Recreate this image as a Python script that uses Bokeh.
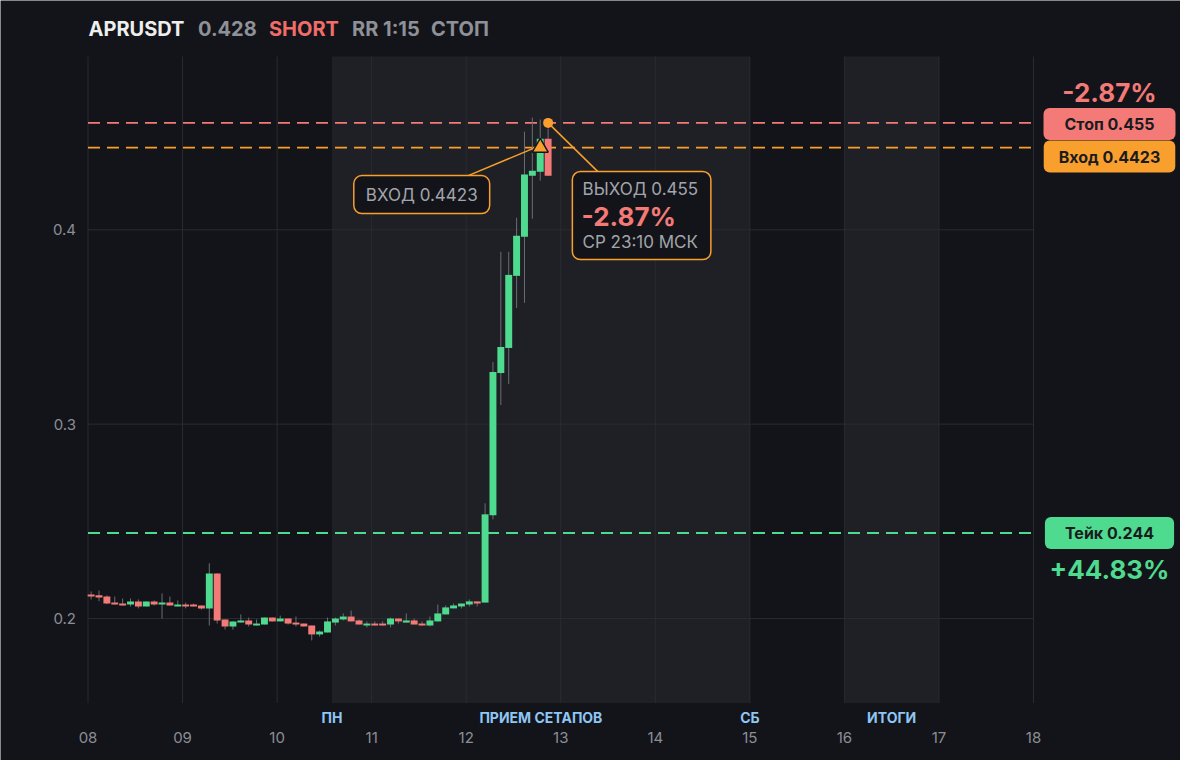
from bokeh.plotting import figure
from bokeh.models import Label, FixedTicker, ColumnDataSource
from bokeh.embed import file_html
from bokeh.resources import INLINE

# ---------------- data ----------------
symbol = "APRUSDT"
last_price = "0.428"
side = "SHORT"
risk_reward = "RR 1:15"
status = "СТОП"

first_candle_day = 8.033          # day-of-month of the first 2h candle
candle_step_days = 2 / 24

opens = [0.2124, 0.2119, 0.2113, 0.2082, 0.2077, 0.2072, 0.2088, 0.2062, 0.2088, 0.2072,
         0.2082, 0.2062, 0.2072, 0.2072, 0.2067, 0.2052, 0.2232, 0.1995, 0.1959, 0.1979,
         0.1990, 0.1964, 0.1969, 0.2005, 0.1985, 0.2000, 0.1979, 0.1974, 0.1964, 0.1918,
         0.1928, 0.1979, 0.1995, 0.2010, 0.1990, 0.1964, 0.1974, 0.1974, 0.1969, 0.2000,
         0.1979, 0.1990, 0.1974, 0.1964, 0.1985, 0.2021, 0.2052, 0.2062, 0.2072, 0.2088,
         0.2082, 0.2531, 0.3263, 0.3392, 0.3763, 0.3964, 0.4278, 0.4299, 0.4469]
highs = [0.2139, 0.2144, 0.2119, 0.2113, 0.2103, 0.2103, 0.2098, 0.2088, 0.2093, 0.2129,
         0.2113, 0.2093, 0.2082, 0.2077, 0.2067, 0.2284, 0.2232, 0.1995, 0.1985, 0.2021,
         0.2005, 0.1995, 0.2005, 0.2005, 0.2015, 0.2000, 0.2010, 0.1974, 0.1964, 0.1938,
         0.2005, 0.2005, 0.2026, 0.2041, 0.1995, 0.1985, 0.1985, 0.1985, 0.2005, 0.2000,
         0.2026, 0.2000, 0.1985, 0.2010, 0.2072, 0.2067, 0.2077, 0.2077, 0.2098, 0.2088,
         0.2593, 0.3320, 0.3887, 0.3887, 0.4062, 0.4505, 0.4577, 0.4567, 0.4521]
lows = [0.2098, 0.2089, 0.2074, 0.2072, 0.2067, 0.2062, 0.2052, 0.2062, 0.2067, 0.2000,
        0.2067, 0.2062, 0.2052, 0.2062, 0.2046, 0.1964, 0.1974, 0.1943, 0.1943, 0.1979,
        0.1959, 0.1964, 0.1969, 0.1985, 0.1985, 0.1969, 0.1959, 0.1959, 0.1887, 0.1907,
        0.1928, 0.1964, 0.1990, 0.1985, 0.1969, 0.1954, 0.1964, 0.1964, 0.1954, 0.1974,
        0.1979, 0.1969, 0.1964, 0.1959, 0.1985, 0.2021, 0.2052, 0.2052, 0.2062, 0.2062,
        0.2082, 0.2510, 0.3098, 0.3206, 0.3598, 0.3624, 0.4057, 0.4253, 0.4278]
closes = [0.2113, 0.2108, 0.2077, 0.2072, 0.2067, 0.2088, 0.2062, 0.2088, 0.2072, 0.2082,
          0.2067, 0.2072, 0.2062, 0.2062, 0.2052, 0.2232, 0.1990, 0.1959, 0.1985, 0.1990,
          0.1969, 0.1974, 0.2005, 0.1985, 0.2000, 0.1974, 0.1969, 0.1959, 0.1918, 0.1933,
          0.1985, 0.2000, 0.2010, 0.1985, 0.1969, 0.1974, 0.1964, 0.1964, 0.2000, 0.1985,
          0.1990, 0.1969, 0.1964, 0.1990, 0.2026, 0.2057, 0.2067, 0.2077, 0.2088, 0.2077,
          0.2536, 0.3268, 0.3397, 0.3768, 0.3969, 0.4284, 0.4304, 0.4469, 0.4278]

entry_index = 57
entry_price = 0.4423
exit_index = 58
exit_price = 0.455
stop_price = 0.455
take_price = 0.244
result_pct = "-2.87%"
take_pct = "+44.83%"
exit_time = "СР 23:10 МСК"

session_starts = [10.58, 16.0]
session_ends = [15.0, 17.0]
session_labels = ["ПН", "ПРИЕМ СЕТАПОВ", "СБ", "ИТОГИ"]
session_label_days = [10.58, 12.79, 15.0, 16.5]

day_ticks = [8, 9, 10, 11, 12, 13, 14, 15, 16, 17, 18]
day_labels = ["08", "09", "10", "11", "12", "13", "14", "15", "16", "17", "18"]
price_ticks = [0.2, 0.3, 0.4]

# ---------------- style ----------------
BG = "#131419"
BAND = "#1f2025"
GRID = "#2a2b31"
GREEN = "#4fdb8f"
RED = "#f47a77"
ORANGE = "#f99f2e"
WICK = "#6a6d74"
TICK = "#8b8e95"
GRAYTXT = "#a2a5ac"
BLUE = "#8fc6f4"
DARKTXT = "#1a1b1f"
FONT = "Inter"

W, H = 1180, 760
# plot area (data) and where it sits on the canvas
X0, X1 = 8, 18
PY0, PY1 = 0.15652, 0.48917
LEFT, RIGHT, TOP, BOTTOM = 87.5, 1033.0, 56.0, 702.5
ppd = (RIGHT - LEFT) / (X1 - X0)
ppu = (BOTTOM - TOP) / (PY1 - PY0)
xs, xe = X0 - LEFT / ppd, X1 + (W - RIGHT) / ppd
ys, ye = PY0 - (H - BOTTOM) / ppu, PY1 + TOP / ppu

p = figure(width=W, height=H, x_range=(xs, xe), y_range=(ys, ye),
           output_backend="svg", toolbar_location=None, min_border=0,
           background_fill_color=BG, border_fill_color=BG, outline_line_color=None)

for ax in (p.xaxis, p.yaxis):
    ax.axis_line_color = None
    ax.major_tick_line_color = None
    ax.minor_tick_line_color = None
    ax.major_label_text_color = TICK
    ax.major_label_text_font = FONT
    ax.major_label_text_font_size = "15px"
p.xaxis.ticker = FixedTicker(ticks=day_ticks)
p.xaxis.major_label_overrides = {d: l for d, l in zip(day_ticks, day_labels)}
p.xaxis.major_label_standoff = 23
p.xaxis.fixed_location = PY0
p.yaxis.ticker = FixedTicker(ticks=price_ticks)
p.yaxis.major_label_standoff = 6
p.yaxis.fixed_location = X0
p.xgrid.visible = False
p.ygrid.visible = False

# session bands
p.quad(left=session_starts, right=session_ends, bottom=PY0, top=PY1,
       fill_color=BAND, line_color=None)

# grid inside the plot area
p.segment(x0=day_ticks, y0=PY0, x1=day_ticks, y1=PY1, line_color=GRID, line_width=1)
p.segment(x0=X0, y0=price_ticks, x1=X1, y1=price_ticks, line_color=GRID, line_width=1)

# level lines
for price, col in ((stop_price, RED), (entry_price, ORANGE), (take_price, GREEN)):
    p.segment(x0=[X0], y0=[price], x1=[X1], y1=[price], line_color=col,
              line_width=1.8, line_dash="12 7")

# candles
times = [first_candle_day + i * candle_step_days for i in range(len(opens))]
tops = [max(o, c) for o, c in zip(opens, closes)]
bottoms = [min(o, c) for o, c in zip(opens, closes)]
colors = [GREEN if c >= o else RED for o, c in zip(opens, closes)]
src = ColumnDataSource(dict(t=times, h=highs, l=lows, top=tops, bottom=bottoms, color=colors))
p.segment(x0="t", y0="h", x1="t", y1="l", source=src, line_color=WICK, line_width=1)
p.vbar(x="t", top="top", bottom="bottom", width=candle_step_days * 0.88,
       fill_color="color", line_color=None, source=src)


def shift(t, v, dx, dy):
    return t + dx / ppd, v - dy / ppu


t_entry = times[entry_index]
t_exit = times[exit_index]

# connectors
ax0, ay0 = shift(t_entry, entry_price, -72, 28)
ax1, ay1 = shift(t_entry, entry_price, -5, 0)
p.segment(x0=[ax0], y0=[ay0], x1=[ax1], y1=[ay1], line_color=ORANGE, line_width=1.5)
bx1, by1 = shift(t_exit, exit_price, 50, 49)
p.segment(x0=[t_exit], y0=[exit_price], x1=[bx1], y1=[by1], line_color=ORANGE, line_width=1.5)

p.scatter([t_entry], [entry_price], marker="triangle", size=16,
          fill_color=ORANGE, line_color="#15161a", line_width=1.5)
p.scatter([t_exit], [exit_price], marker="circle", size=10,
          fill_color=ORANGE, line_color=None)


def add_label(text, x, y, dx, dy, size, color, style="normal", align="left", **kw):
    p.add_layout(Label(x=x, y=y, x_offset=dx, y_offset=-dy, text=text,
                       text_font=FONT, text_font_size=f"{size}px", text_color=color,
                       text_font_style=style, text_align=align, text_baseline="middle", **kw))


# header
add_label(symbol, X0, PY1, 0.5, -28, 20, "#eeeeee", "bold")
add_label(last_price, X0, PY1, 110, -28, 20, "#8e9198", "bold")
add_label(side, X0, PY1, 181, -28, 20, "#f06d69", "bold")
add_label(risk_reward, X0, PY1, 264, -28, 20, "#8e9198", "bold")
add_label(status, X0, PY1, 343, -28, 20, "#8e9198", "bold")

# session labels
for lab, d in zip(session_labels, session_label_days):
    add_label(lab, d, PY0, 0, 14.5, 14, BLUE, "bold", "center")

# entry box
add_label(f"ВХОД {entry_price}", t_entry, entry_price, -118.5, 47, 17, GRAYTXT, "normal", "center",
          background_fill_color=BG, border_line_color=ORANGE, border_line_width=1.5,
          border_radius=8, padding=(12, 9))

# exit box
add_label(" ", t_exit, exit_price, 93.5, 92.6, 16, BG, "normal", "center",
          background_fill_color=BG, border_line_color=ORANGE, border_line_width=1.5,
          border_radius=8, padding=(67, 34))
add_label(f"ВЫХОД {exit_price}", t_exit, exit_price, 34.4, 65.7, 17, GRAYTXT)
add_label(result_pct, t_exit, exit_price, 33.5, 93.7, 26, RED, "bold")
add_label(exit_time, t_exit, exit_price, 34.4, 119, 17, GRAYTXT)

# right side price tags
RX = 76
add_label(result_pct, X1, stop_price, RX, -30.3, 26, RED, "bold", "center")
add_label(f"Стоп {stop_price}", X1, stop_price, RX, 1, 16, DARKTXT, "bold", "center",
          background_fill_color=RED, border_radius=6, padding=(21, 6))
add_label(f"Вход {entry_price}", X1, entry_price, RX, 9, 16, DARKTXT, "bold", "center",
          background_fill_color=ORANGE, border_radius=6, padding=(15, 6))
add_label(f"Тейк {take_price}", X1, take_price, RX, 0, 16, DARKTXT, "bold", "center",
          background_fill_color=GREEN, border_radius=6, padding=(20, 6))
add_label(take_pct, X1, take_price, RX, 36.5, 26, GREEN, "bold", "center")

html = file_html(p, INLINE)
html = html.replace("<body>", f'<body style="background:{BG};">', 1)
open("out.html", "w").write(html)
